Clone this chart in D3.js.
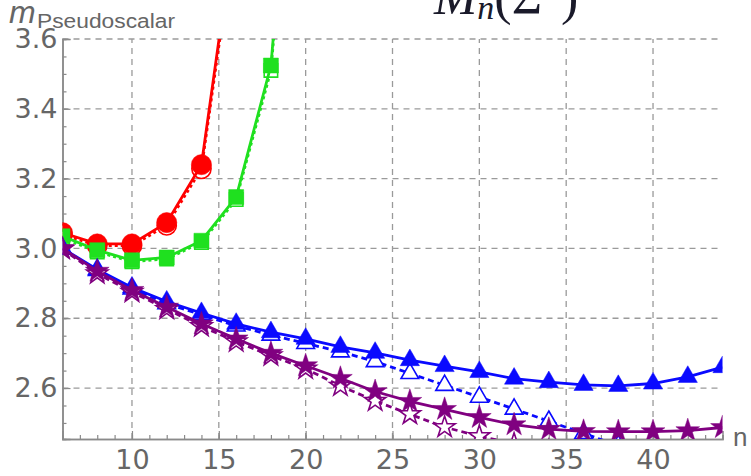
<!DOCTYPE html>
<html>
<head>
<meta charset="utf-8">
<script src="https://cdn.jsdelivr.net/npm/d3@7"></script>
<style>
  body { margin: 0; background: #fff; }
  svg { display: block; }
</style>
</head>
<body>
<script>
// n values and masses
var nRed = [6, 8, 10, 12, 14, 16];
var redSolid = [3.045, 3.013, 3.013, 3.074, 3.24, 3.95];
var redDashed = [3.04, 3.008, 3.008, 3.066, 3.228, 3.93];

var nGreen = [6, 8, 10, 12, 14, 16, 18, 20];
var greenSolid = [3.035, 2.995, 2.966, 2.974, 3.022, 3.147, 3.524, 4.7];
var greenDashed = [3.03, 2.99, 2.962, 2.97, 3.017, 3.14, 3.51, 4.65];

var nBlue = [6, 8, 10, 12, 14, 16, 18, 20, 22, 24, 26, 28, 30, 32, 34, 36, 38, 40, 42, 44];
var blueSolid = [3.0, 2.94, 2.888, 2.848, 2.815, 2.784, 2.76, 2.741, 2.718, 2.701, 2.68, 2.663, 2.646, 2.627, 2.617, 2.609, 2.606, 2.613, 2.632, 2.66];
var nBlueDashed = [6, 8, 10, 12, 14, 16, 18, 20, 22, 24, 26, 28, 30, 32, 34, 36, 38];
var blueDashed = [2.998, 2.937, 2.884, 2.842, 2.81, 2.778, 2.752, 2.728, 2.704, 2.676, 2.642, 2.608, 2.574, 2.54, 2.505, 2.47, 2.435];

var nPurple = nBlue;
var purpleSolid = [3.0, 2.935, 2.88, 2.832, 2.784, 2.741, 2.7, 2.664, 2.628, 2.59, 2.562, 2.539, 2.516, 2.495, 2.482, 2.476, 2.475, 2.475, 2.478, 2.487];
var nPurpleDashed = [6, 8, 10, 12, 14, 16, 18, 20, 22, 24, 26, 28, 30, 32, 34];
var purpleDashed = [2.998, 2.928, 2.875, 2.826, 2.777, 2.733, 2.693, 2.655, 2.606, 2.563, 2.525, 2.488, 2.462, 2.44, 2.42];

var xTicks = [10, 15, 20, 25, 30, 35, 40];
var yTicks = [2.6, 2.8, 3.0, 3.2, 3.4, 3.6];

var svgWidth = 751;
var svgHeight = 476;

var svg = d3.select("body")
    .append("svg")
    .attr("width", svgWidth)
    .attr("height", svgHeight);

var xScale = d3.scaleLinear().domain([6, 44]).range([62.5, 722.5]);
var yScale = d3.scaleLinear().domain([2.454, 3.6]).range([439, 39]);

var gridColor = "#9a9a9a";
var textColor = "#666";

// grid
svg.append("g").selectAll("line")
    .data(xTicks)
    .join("line")
    .attr("x1", d => xScale(d)).attr("x2", d => xScale(d))
    .attr("y1", yScale.range()[0]).attr("y2", yScale.range()[1])
    .attr("stroke", gridColor)
    .attr("stroke-width", 1.3)
    .attr("stroke-dasharray", "6,5");

svg.append("g").selectAll("line")
    .data(yTicks)
    .join("line")
    .attr("x1", xScale.range()[0]).attr("x2", xScale.range()[1])
    .attr("y1", d => yScale(d)).attr("y2", d => yScale(d))
    .attr("stroke", gridColor)
    .attr("stroke-width", 1.3)
    .attr("stroke-dasharray", "6,5");

// axes
var yMinor = d3.range(2.5, 3.6001, 0.05).map(d => +d.toFixed(2));
var xMinor = d3.range(6, 45, 1);

var leftMinor = svg.append("g")
    .attr("transform", `translate(${xScale.range()[0]},0)`)
    .call(d3.axisLeft(yScale).tickValues(yMinor).tickSize(-4).tickFormat(""));

var leftAxis = svg.append("g")
    .attr("transform", `translate(${xScale.range()[0]},0)`)
    .call(d3.axisLeft(yScale).tickValues(yTicks).tickSize(-8).tickPadding(5).tickFormat(d3.format(".1f")));

var bottomMinor = svg.append("g")
    .attr("transform", `translate(0,${yScale.range()[0]})`)
    .call(d3.axisBottom(xScale).tickValues(xMinor).tickSize(-4).tickFormat(""));

var bottomAxis = svg.append("g")
    .attr("transform", `translate(0,${yScale.range()[0]})`)
    .call(d3.axisBottom(xScale).tickValues(xTicks).tickSize(-8).tickPadding(11));

[leftMinor, leftAxis, bottomMinor, bottomAxis].forEach(function(g) {
    g.select(".domain").attr("stroke", "#8a8a8a").attr("stroke-width", 1.5);
    g.selectAll(".tick line").attr("stroke", "#8a8a8a").attr("stroke-width", 1.2);
    g.selectAll(".tick text")
        .attr("fill", textColor)
        .style("font-family", "'DejaVu Sans', sans-serif")
        .style("font-size", "27px");
});

// axis titles
svg.append("text")
    .attr("x", 9)
    .attr("y", 23)
    .attr("fill", textColor)
    .style("font-family", "'Liberation Sans', Arial, sans-serif")
    .style("font-style", "italic")
    .style("font-size", "32px")
    .text("m");

svg.append("text")
    .attr("x", 37)
    .attr("y", 28)
    .attr("fill", textColor)
    .attr("textLength", 138)
    .attr("lengthAdjust", "spacingAndGlyphs")
    .style("font-family", "'Liberation Sans', Arial, sans-serif")
    .style("font-size", "20px")
    .text("Pseudoscalar");

svg.append("text")
    .attr("x", 733)
    .attr("y", 446)
    .attr("fill", textColor)
    .style("font-family", "'Liberation Sans', Arial, sans-serif")
    .style("font-size", "26px")
    .text("n");

// title, mostly cut off at the top
var title = svg.append("text")
    .attr("x", 434)
    .attr("y", 14)
    .attr("fill", "#1a1a2a")
    .style("font-family", "'Liberation Serif', 'Times New Roman', serif")
    .style("font-size", "52px");
title.append("tspan").text("M").style("font-style", "italic");
title.append("tspan").text("n").style("font-style", "italic").style("font-size", "34px").attr("dy", 5);
title.append("tspan").text("(Σ").attr("dy", -5);
title.append("tspan").text("−").style("font-size", "34px").attr("dy", -16);
title.append("tspan").text(")").attr("dy", 16);

// plot area clip
svg.append("clipPath")
    .attr("id", "plotClip")
    .append("rect")
    .attr("x", xScale.range()[0])
    .attr("y", yScale.range()[1])
    .attr("width", xScale.range()[1] - xScale.range()[0])
    .attr("height", yScale.range()[0] - yScale.range()[1]);

var plot = svg.append("g").attr("clip-path", "url(#plotClip)");

var line = d3.line()
    .x(d => xScale(d[0]))
    .y(d => yScale(d[1]));

function drawSeries(ns, vals, color, symbol, size, filled, dash) {
    var pts = ns.map((n, i) => [n, vals[i]]);
    plot.append("path")
        .attr("d", line(pts))
        .attr("fill", "none")
        .attr("stroke", color)
        .attr("stroke-width", 2.8)
        .attr("stroke-dasharray", dash);
    plot.append("g").selectAll("path")
        .data(pts)
        .join("path")
        .attr("transform", d => `translate(${xScale(d[0])},${yScale(d[1])})`)
        .attr("d", d3.symbol().type(symbol).size(size))
        .attr("fill", filled ? color : "#fff")
        .attr("stroke", color)
        .attr("stroke-width", filled ? 0.5 : 1.6);
}

var red = "#ff0000";
var green = "#1fe01f";
var blue = "#0a0aff";
var purple = "#800080";

drawSeries(nRed, redDashed, red, d3.symbolCircle, 290, false, "3,3");
drawSeries(nRed, redSolid, red, d3.symbolCircle, 320, true, null);

drawSeries(nGreen, greenDashed, green, d3.symbolSquare, 180, false, "3,3");
drawSeries(nGreen, greenSolid, green, d3.symbolSquare, 225, true, null);

drawSeries(nBlueDashed, blueDashed, blue, d3.symbolTriangle, 135, false, "6,4");
drawSeries(nBlue, blueSolid, blue, d3.symbolTriangle, 160, true, null);

drawSeries(nPurpleDashed, purpleDashed, purple, d3.symbolStar, 140, false, "6,4");
drawSeries(nPurple, purpleSolid, purple, d3.symbolStar, 175, true, null);
</script>
</body>
</html>
